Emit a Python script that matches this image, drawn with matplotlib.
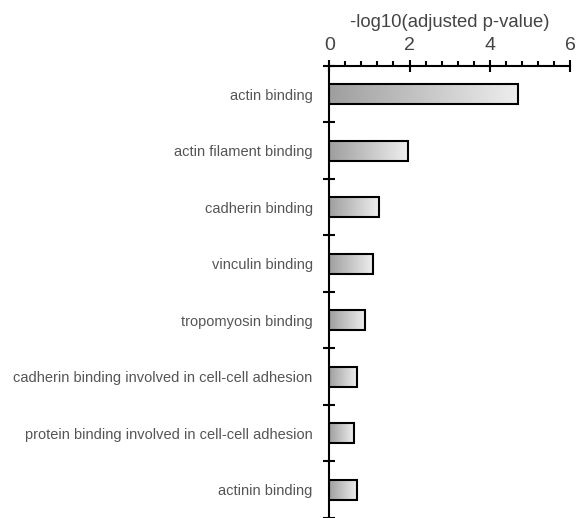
import numpy as np
import matplotlib.pyplot as plt
from matplotlib.ticker import MultipleLocator, FixedLocator

plt.rcParams['font.family'] = ['Liberation Sans', 'DejaVu Sans']

# GO molecular function terms, top to bottom
terms = [
    'actin binding',
    'actin filament binding',
    'cadherin binding',
    'vinculin binding',
    'tropomyosin binding',
    'cadherin binding involved in cell-cell adhesion',
    'protein binding involved in cell-cell adhesion',
    'actinin binding',
]
neg_log_p = [4.71, 1.95, 1.24, 1.09, 0.88, 0.69, 0.62, 0.69]

fig = plt.figure(figsize=(5.81, 5.18), dpi=100)
ax = fig.add_axes([0.5668, 0.0, 0.4143, 0.8726])

ypos = np.arange(len(terms))
bar_h = 0.35
bars = ax.barh(ypos, neg_log_p, height=bar_h, facecolor='none',
               edgecolor='black', linewidth=1.5, zorder=3)

# grey gradient inside each bar, dark on the left
grad = np.linspace(0.62, 0.93, 256).reshape(1, -1)
for b, v, y in zip(bars, neg_log_p, ypos):
    im = ax.imshow(grad, cmap='gray', vmin=0, vmax=1, aspect='auto',
                   extent=[0, v, y + bar_h / 2, y - bar_h / 2],
                   interpolation='bicubic', zorder=2)
    im.set_clip_path(b)

ax.set_xlim(0, 6)
ax.set_ylim(len(terms) - 0.5, -0.5)

ax.xaxis.set_ticks_position('top')
ax.xaxis.set_label_position('top')
ax.set_xticks([0, 2, 4, 6])
ax.xaxis.set_minor_locator(MultipleLocator(0.4))
ax.set_xlabel('-log10(adjusted p-value)', fontsize=13.3, color='#444444', labelpad=7)
ax.tick_params(axis='x', which='major', direction='inout', length=9, width=1.5,
               labelsize=14, colors='black', labelcolor='#444444', pad=4)
ax.tick_params(axis='x', which='minor', direction='out', length=3.5, width=1.5)

ax.set_yticks(ypos)
ax.set_yticklabels(terms)
ax.yaxis.set_minor_locator(FixedLocator(np.arange(-0.5, len(terms), 1.0)))
ax.tick_params(axis='y', which='major', length=0, labelsize=10.5,
               labelcolor='#555555', pad=12)
ax.tick_params(axis='y', which='minor', direction='inout', length=8, width=1.5)

for side in ['right', 'bottom']:
    ax.spines[side].set_visible(False)
ax.spines['top'].set_linewidth(1.5)
ax.spines['left'].set_linewidth(1.5)

fig.savefig('out.png', dpi=100)
